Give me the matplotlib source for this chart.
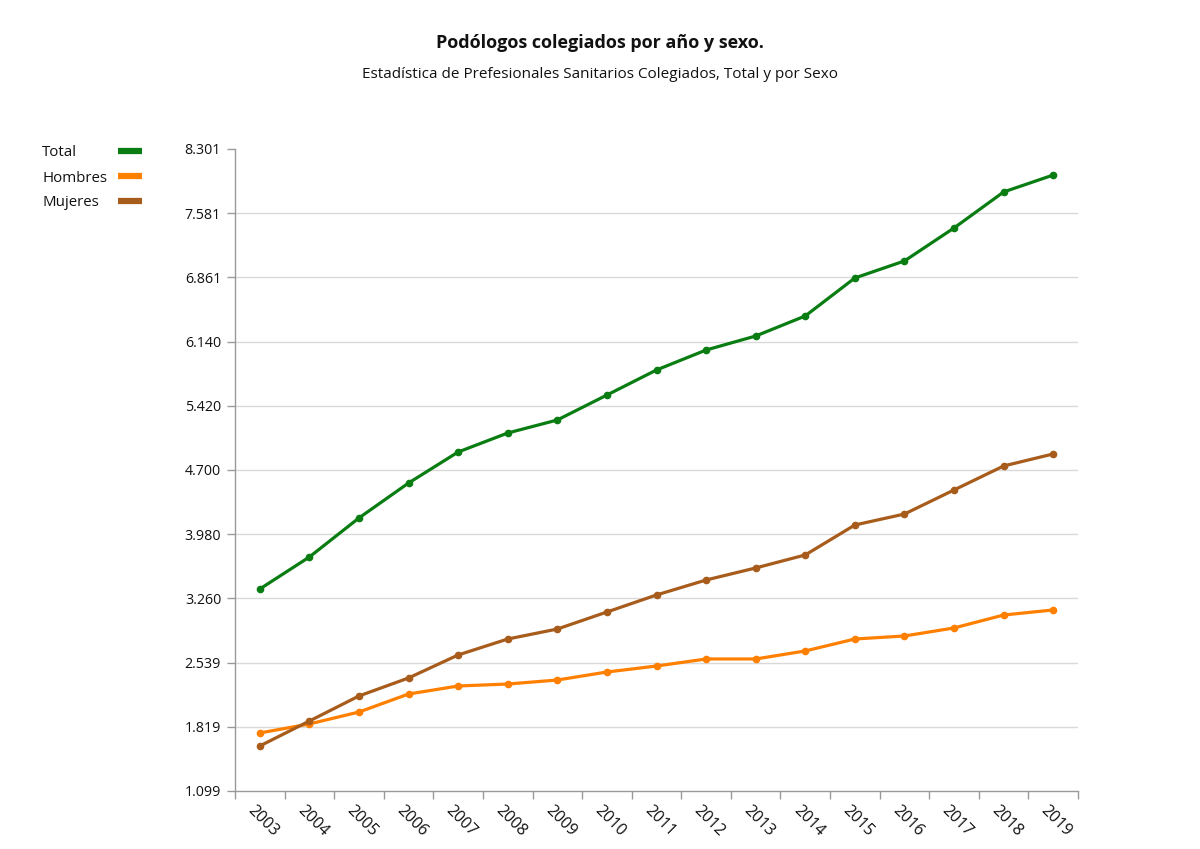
import matplotlib
matplotlib.use("Agg")
import matplotlib.pyplot as plt
from matplotlib.lines import Line2D

plt.rcParams['font.family'] = ['Open Sans', 'DejaVu Sans']

years = ["2003", "2004", "2005", "2006", "2007", "2008", "2009", "2010", "2011",
         "2012", "2013", "2014", "2015", "2016", "2017", "2018", "2019"]
total = [3365, 3724, 4162, 4554, 4902, 5115, 5261, 5541, 5822, 6046, 6203, 6428,
         6854, 7045, 7415, 7819, 8009]
hombres = [1750, 1851, 1985, 2187, 2277, 2299, 2344, 2434, 2501, 2580, 2580, 2670,
           2804, 2838, 2928, 3073, 3130]
mujeres = [1604, 1884, 2165, 2367, 2625, 2804, 2916, 3107, 3298, 3466, 3601, 3747,
           4083, 4206, 4476, 4745, 4880]
yticks = [1099, 1819, 2539, 3260, 3980, 4700, 5420, 6140, 6861, 7581, 8301]
ytick_labels = ["1.099", "1.819", "2.539", "3.260", "3.980", "4.700", "5.420",
                "6.140", "6.861", "7.581", "8.301"]
series_names = ["Total", "Hombres", "Mujeres"]
colors = ["#0a7d12", "#ff8000", "#a85c1c"]

fig = plt.figure(figsize=(12, 8.49), dpi=100)
ax = fig.add_axes([235/1200, 1-791/849, (1078-235)/1200, (791-149)/849])

n = len(years)
x = [i + 0.5 for i in range(n)]
for vals, c in zip([total, hombres, mujeres], colors):
    ax.plot(x, vals, color=c, lw=2.3, marker='o', ms=4.5, zorder=3)

ax.set_xlim(0, n)
ax.set_ylim(yticks[0], yticks[-1])
for t in yticks[1:-1]:
    ax.axhline(t, color="#d9d9d9", lw=1, zorder=1)

ax.set_yticks(yticks)
ax.set_yticklabels(ytick_labels)
ax.set_xticks(range(n + 1))
ax.set_xticklabels([])
ax.tick_params(axis='both', colors="#999999", length=6, width=1, labelcolor="#111111",
               labelsize=10.3)
ax.tick_params(axis='y', pad=4)
for s in ['top', 'right']:
    ax.spines[s].set_visible(False)
for s in ['left', 'bottom']:
    ax.spines[s].set_color("#999999")
    ax.spines[s].set_linewidth(1)

for xi, lab in zip(x, years):
    ax.annotate(lab, xy=(xi, 0), xycoords=('data', 'axes fraction'),
                xytext=(-4, -12), textcoords='offset pixels',
                rotation=-45, ha='left', va='top', rotation_mode='anchor',
                fontsize=11.5, color="#111111")

fig.text(600/1200, 1-43/849, "Podólogos colegiados por año y sexo.", ha='center',
         va='center', fontsize=13, fontweight='bold', color="#111111")
fig.text(600/1200, 1-74/849, "Estadística de Prefesionales Sanitarios Colegiados, Total y por Sexo",
         ha='center', va='center', fontsize=11, color="#111111")

for i, (name, c) in enumerate(zip(series_names, colors)):
    yy = 1 - (151 + 25 * i) / 849
    fig.text(42/1200, yy - 2/849, name, ha='left', va='center', fontsize=10.8, color="#111111")
    fig.add_artist(Line2D([118/1200, 142/1200], [yy, yy], color=c, lw=4.5,
                          solid_capstyle='butt', transform=fig.transFigure))

fig.savefig("out.png", dpi=100)
